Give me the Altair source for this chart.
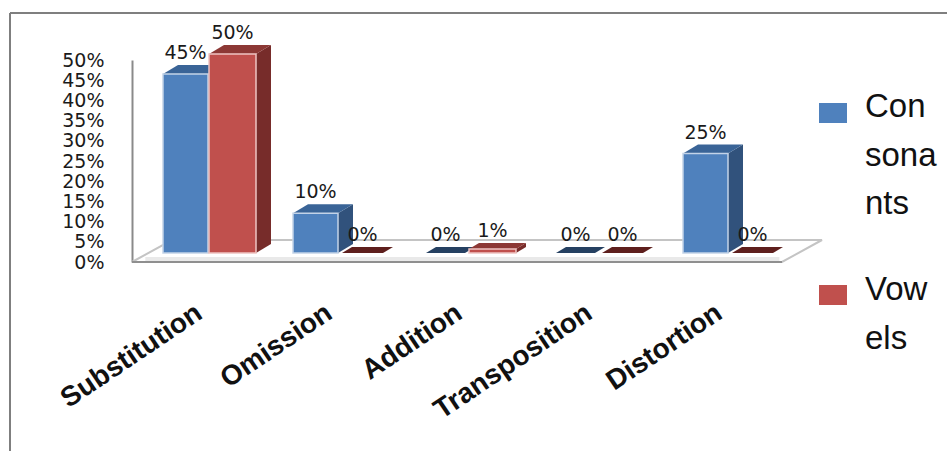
import altair as alt
import pandas as pd

# Chart values
categories = ["Substitution", "Omission", "Addition", "Transposition", "Distortion"]
consonants = [45, 10, 0, 0, 25]
vowels = [50, 0, 1, 0, 0]
percent_ticks = [0, 5, 10, 15, 20, 25, 30, 35, 40, 45, 50]

# Faux-3D geometry, in scale units (categories on x, percent on y)
BAR_W = {"Consonants": 45 / 130, "Vowels": 47 / 130}
BAR_X = {"Consonants": -46 / 130, "Vowels": 0.0}
DX, DY = 15 / 130, 9 / 3.98
SMALL_DX, SMALL_DY = 10 / 130, 6 / 3.98
INSET = 3 / 130

PALETTE = {
    "Consonants": dict(front="#4f81bd", side="#31527c", top="#3a6497", flat="#254061", edge="#c3d3e8"),
    "Vowels": dict(front="#c0504d", side="#772c2a", top="#8c3835", flat="#5e1f1d", edge="#eec4c2"),
}

WIDTH, HEIGHT = 937, 438
x_scale = alt.Scale(domain=[-199 / 130, 738 / 130], range=[0, WIDTH], nice=False, zero=False)
bar_y_scale = alt.Scale(domain=[0, 50], range=[240, 41], nice=False, zero=False)
axis_y_scale = alt.Scale(domain=[0, 50], range=[249, 47], nice=False, zero=False)

X = alt.X("x:Q", scale=x_scale, axis=None)
Y = alt.Y("y:Q", scale=bar_y_scale, axis=None)
Y2 = alt.Y2("y2:Q")


def bars_for(series, values):
    """Front rectangles and side/top polygons of one series."""
    fronts, faces, labels = [], [], []
    colors = PALETTE[series]
    for i, (cat, v) in enumerate(zip(categories, values)):
        left = i + BAR_X[series]
        right = left + BAR_W[series]
        small = v <= 1
        dx, dy = (SMALL_DX, SMALL_DY) if small else (DX, DY)
        labels.append(dict(x=(left + right) / 2, y=v, label=f"{v}%", small=small))
        if v == 0:
            left += INSET
            right -= INSET
            top_color = colors["flat"]
        else:
            top_color = colors["top"]
            fronts.append(dict(x=left, x2=right, y=0, y2=v))
            faces += [
                dict(key=f"{cat}-side", x=right, y=0, y2=v, fill=colors["side"]),
                dict(key=f"{cat}-side", x=right + dx, y=dy, y2=v + dy, fill=colors["side"]),
            ]
        faces += [
            dict(key=f"{cat}-top", x=left, y=v, y2=v, fill=top_color),
            dict(key=f"{cat}-top", x=left + dx, y=v, y2=v + dy, fill=top_color),
            dict(key=f"{cat}-top", x=right, y=v, y2=v + dy, fill=top_color),
            dict(key=f"{cat}-top", x=right + dx, y=v + dy, y2=v + dy, fill=top_color),
        ]
    return pd.DataFrame(fronts), pd.DataFrame(faces), labels


def series_layers(series, values):
    fronts, faces, labels = bars_for(series, values)
    face_layer = alt.Chart(faces).mark_area(interpolate="linear").encode(
        x=X, y=Y, y2=Y2, detail="key:N", color=alt.Color("fill:N", scale=None)
    )
    front_layer = alt.Chart(fronts).mark_rect(
        fill=PALETTE[series]["front"], stroke=PALETTE[series]["edge"], strokeWidth=1.5
    ).encode(x=X, x2="x2:Q", y=Y, y2=Y2)
    return [face_layer, front_layer], labels


# Invisible layer that carries the two real axes
axis_layer = alt.Chart(pd.DataFrame({"x": list(range(len(categories))), "y": percent_ticks[:len(categories)]})).mark_point(opacity=0).encode(
    x=alt.X(
        "x:Q",
        scale=x_scale,
        title=None,
        axis=alt.Axis(
            values=list(range(len(categories))),
            labelExpr=f"{categories}[datum.value]",
            labelAngle=-34,
            labelAlign="right",
            labelBaseline="middle",
            labelFont="Liberation Sans",
            labelFontWeight="bold",
            labelFontSize=28,
            labelColor="#111111",
            labelOffset=-10,
            labelPadding=9,
            labelOverlap=False,
            labelLimit=300,
            domain=False,
            ticks=False,
            grid=False,
            offset=-150,
        ),
    ),
    y=alt.Y(
        "y:Q",
        scale=axis_y_scale,
        title=None,
        axis=alt.Axis(
            values=percent_ticks,
            labelExpr="datum.value + '%'",
            labelFont="DejaVu Sans",
            labelFontSize=19,
            labelColor="#1a1a1a",
            labelPadding=28,
            labelOverlap=False,
            domainColor="#8a8a8a",
            domainWidth=2,
            ticks=False,
            grid=False,
            offset=-122,
        ),
    ),
)

# Floor plate under the bars
FX0, FX1 = (132 - 209) / 130, (782 - 209) / 130
FDX = 40 / 130
F_FRONT, F_BACK = -9 / 3.98, 13 / 3.98
floor_df = pd.DataFrame([
    dict(key="f", x=FX0, y=F_FRONT, y2=F_FRONT),
    dict(key="f", x=FX0 + FDX, y=F_FRONT, y2=F_BACK),
    dict(key="f", x=FX1, y=F_FRONT, y2=F_BACK),
    dict(key="f", x=FX1 + FDX, y=F_BACK, y2=F_BACK),
])
floor = alt.Chart(floor_df).mark_area(
    fill="#ffffff", stroke="#c4c4c4", strokeWidth=2
).encode(x=X, y=Y, y2=Y2, detail="key:N")
floor_band = alt.Chart(pd.DataFrame([dict(x=FX0 + FDX / 3, x2=FX1 - 0.02, y=F_FRONT, y2=-1)])).mark_rect(
    fill="#e9e9e9"
).encode(x=X, x2="x2:Q", y=Y, y2=Y2)
floor_front = alt.Chart(pd.DataFrame([dict(x=FX0, x2=FX1, y=F_FRONT)])).mark_rule(
    color="#8f8f8f", strokeWidth=2
).encode(x=X, x2="x2:Q", y=Y)

blue_layers, blue_labels = series_layers("Consonants", consonants)
red_layers, red_labels = series_layers("Vowels", vowels)


def label_layer(rows, small):
    df = pd.DataFrame([r for r in rows if r["small"] == small])
    return alt.Chart(df).mark_text(
        font="DejaVu Sans", fontSize=19, color="#1a1a1a", baseline="middle", dy=-18 if small else -21
    ).encode(x=X, y=Y, text="label:N")


all_labels = blue_labels + red_labels
value_labels = [label_layer(all_labels, True), label_layer(all_labels, False)]

# Outer frame: only the top and left edges fall inside the canvas
frame_top = alt.Chart(pd.DataFrame({"a": [0]})).mark_rule(color="#7f7f7f", strokeWidth=2).encode(
    x=alt.value(0), x2=alt.value(WIDTH), y=alt.value(0)
)
frame_left = alt.Chart(pd.DataFrame({"a": [0]})).mark_rule(color="#7f7f7f", strokeWidth=2).encode(
    x=alt.value(0), y=alt.value(0), y2=alt.value(HEIGHT)
)

# Legend with the wrapped series names
legend_entries = [
    ("Consonants", ["Con", "sona", "nts"], 90, 94),
    ("Vowels", ["Vow", "els"], 272, 277),
]
legend_layers = []
for series, lines, swatch_y, text_y in legend_entries:
    legend_layers.append(
        alt.Chart(pd.DataFrame({"a": [0]})).mark_rect(fill=PALETTE[series]["front"]).encode(
            x=alt.value(809), x2=alt.value(837), y=alt.value(swatch_y), y2=alt.value(swatch_y + 20)
        )
    )
    for n, line in enumerate(lines):
        legend_layers.append(
            alt.Chart(pd.DataFrame({"t": [line]})).mark_text(
                font="Liberation Sans", fontSize=33, align="left", baseline="middle", color="#111111"
            ).encode(x=alt.value(855), y=alt.value(text_y + 48.5 * n), text="t:N")
        )

chart = alt.layer(
    axis_layer,
    floor,
    floor_band,
    floor_front,
    *blue_layers,
    *red_layers,
    *value_labels,
    frame_top,
    frame_left,
    *legend_layers,
).resolve_scale(y="independent").resolve_axis(x="independent").properties(
    width=WIDTH,
    height=HEIGHT,
    padding={"left": 10, "top": 13, "right": 0, "bottom": 0},
    autosize=alt.AutoSizeParams(type="none"),
    background="#ffffff",
).configure_view(stroke=None)

chart.save("out.html", embed_options={"renderer": "svg", "actions": False})
